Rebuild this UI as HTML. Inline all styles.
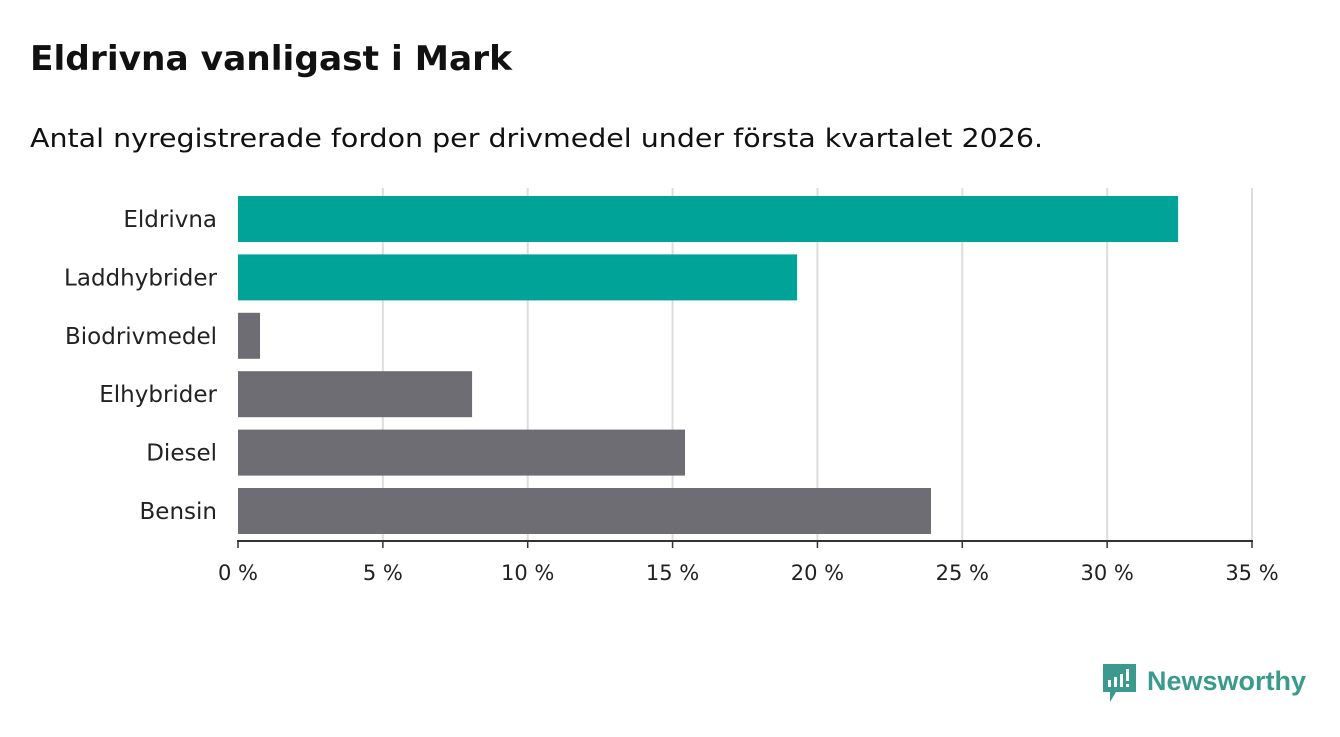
<!DOCTYPE html>
<html><head><meta charset="utf-8"><style>
body{margin:0;background:#fff;width:1340px;height:733px;overflow:hidden;font-family:"DejaVu Sans","Liberation Sans",sans-serif;}
</style></head><body>
<svg width="1340" height="733">
<text x="30" y="70" font-size="34" font-weight="bold" fill="#111" textLength="482" lengthAdjust="spacingAndGlyphs">Eldrivna vanligast i Mark</text>
<text x="30" y="147" font-size="26" fill="#111" textLength="1013" lengthAdjust="spacingAndGlyphs">Antal nyregistrerade fordon per drivmedel under första kvartalet 2026.</text>
<g id="grid"></g><g id="bars"></g><g id="axis"></g>
<g>
<path d="M1103 664h33v28h-20l-6 10v-10h-7z" fill="#3a9a8e"/>
<rect x="1108" y="680" width="3" height="7" fill="#fff"/><rect x="1114" y="677" width="3" height="10" fill="#fff"/><rect x="1120" y="674" width="3" height="13" fill="#fff"/><rect x="1126" y="669" width="3" height="12" fill="#fff"/><rect x="1126" y="684" width="3" height="3" fill="#fff"/>
<text x="1147" y="690" font-size="27" font-weight="bold" fill="#3a9a8e" textLength="159" lengthAdjust="spacingAndGlyphs" font-family="Liberation Sans">Newsworthy</text>
</g>
</svg>
<script>
const categories=["Eldrivna","Laddhybrider","Biodrivmedel","Elhybrider","Diesel","Bensin"];
const values=[32.45,19.3,0.76,8.08,15.43,23.92];
const colors=["#00a398","#00a398","#6e6d74","#6e6d74","#6e6d74","#6e6d74"];
const ticks=[0,5,10,15,20,25,30,35];
const NS="http://www.w3.org/2000/svg";
const x=v=>238+v*(1252-238)/35;
const y=i=>196+i*58.4;
function mk(t,a,p){const e=document.createElementNS(NS,t);for(const k in a)e.setAttribute(k,a[k]);document.getElementById(p).appendChild(e);return e;}
ticks.forEach(t=>{
 if(t>0){const g=mk("line",{x1:x(t),x2:x(t),y1:188,y2:541,stroke:"#dddddd","stroke-width":2},"grid");
 
 }
 const tk=mk("line",{x1:x(t),x2:x(t),y1:541,y2:548,stroke:"#333","stroke-width":1.5},"axis");
 
 
 const l=mk("text",{x:x(t),y:580,"text-anchor":"middle","font-size":21,fill:"#222"},"axis");
 l.textContent=t+" %";
 
 
});
categories.forEach((c,i)=>{
 const b=mk("rect",{x:x(0),y:y(i),width:x(values[i])-x(0),height:46,fill:colors[i]},"bars");
 
 
 const l=mk("text",{x:217,y:y(i)+31,"text-anchor":"end","font-size":23,fill:"#222"},"axis");
 l.textContent=c;
 
 
});
const ax=mk("line",{x1:237,x2:1253,y1:541,y2:541,stroke:"#333","stroke-width":2},"axis");


</script>
</body></html>
